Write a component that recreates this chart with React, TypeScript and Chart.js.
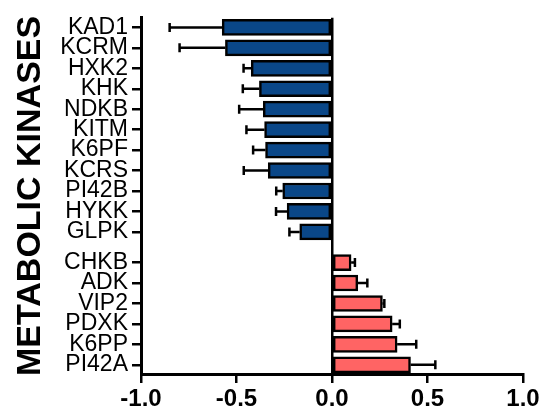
import React, { useEffect, useRef } from "react";
import { Chart, registerables } from "chart.js";

Chart.register(...registerables);

// Kinases with lower abundance (top group) and higher abundance (bottom group)
const decreasedKinases = ["KAD1", "KCRM", "HXK2", "KHK", "NDKB", "KITM", "K6PF", "KCRS", "PI42B", "HYKK", "GLPK"];
const decreasedValues = [-0.575, -0.558, -0.423, -0.38, -0.36, -0.353, -0.348, -0.334, -0.258, -0.235, -0.169];
const decreasedErrors = [0.275, 0.24, 0.04, 0.087, 0.126, 0.095, 0.065, 0.128, 0.034, 0.058, 0.054];

const increasedKinases = ["CHKB", "ADK", "VIP2", "PDXK", "K6PP", "PI42A"];
const increasedValues = [0.1, 0.135, 0.264, 0.315, 0.341, 0.411];
const increasedErrors = [0.02, 0.05, 0.01, 0.04, 0.1, 0.13];

const xTicks = [-1.0, -0.5, 0.0, 0.5, 1.0];
const axisTitle = "METABOLIC KINASES";

const BLUE = "#0a4788";
const RED = "#ff6464";
const FONT = "'Liberation Sans', Arial, sans-serif";
const GROUP_GAP = 0.5;

// Row index per kinase, with half a row of space between the two groups
const labels = [...decreasedKinases, ...increasedKinases];
const values = [...decreasedValues, ...increasedValues];
const errors = [...decreasedErrors, ...increasedErrors];
const rows = labels.map((_, i) => (i < decreasedKinases.length ? i : i + GROUP_GAP));

const errorBarPlugin = {
  id: "errorBars",
  afterDatasetsDraw(chart: any) {
    const meta = chart.getDatasetMeta(0);
    const xs = chart.scales.x;
    const ctx = chart.ctx;
    ctx.save();
    ctx.strokeStyle = "#000";
    ctx.lineWidth = 2.5;
    meta.data.forEach((bar: any, i: number) => {
      const v = values[i];
      const e = errors[i];
      const end = v + (v < 0 ? -e : e);
      const x1 = xs.getPixelForValue(v);
      const x2 = xs.getPixelForValue(end);
      const y = bar.y;
      ctx.beginPath();
      ctx.moveTo(x1, y);
      ctx.lineTo(x2, y);
      ctx.moveTo(x2, y - 4.5);
      ctx.lineTo(x2, y + 4.5);
      ctx.stroke();
    });
    ctx.restore();
  },
};

export default function App() {
  const ref = useRef<HTMLCanvasElement | null>(null);

  useEffect(() => {
    if (!ref.current) return;
    const chart = new Chart(ref.current, {
      type: "bar",
      data: {
        datasets: [
          {
            data: values.map((v, i) => ({ x: v, y: rows[i] })),
            backgroundColor: values.map((v) => (v < 0 ? BLUE : RED)),
            borderColor: "#000",
            borderWidth: 2.5,
            borderSkipped: false,
            barThickness: 16,
          },
        ],
      },
      plugins: [errorBarPlugin],
      options: {
        indexAxis: "y",
        animation: false,
        responsive: false,
        layout: { padding: { left: 0, top: 13, right: 18, bottom: 0 } },
        plugins: { legend: { display: false }, tooltip: { enabled: false } },
        scales: {
          x: {
            type: "linear",
            min: -1,
            max: 1,
            afterBuildTicks: (s: any) => {
              s.ticks = xTicks.map((v) => ({ value: v }));
            },
            afterFit: (s: any) => {
              s.height = 40;
              s.paddingLeft = 0;
              s.paddingRight = 0;
            },
            ticks: {
              callback: (v: any) => Number(v).toFixed(1),
              color: "#000",
              font: { family: FONT, size: 24, weight: "bold" },
              padding: 2,
              maxRotation: 0,
            },
            grid: {
              drawOnChartArea: true,
              color: (c: any) => (c.tick && c.tick.value === 0 ? "#000" : "rgba(0,0,0,0)"),
              tickColor: "#000",
              lineWidth: 2.5,
              tickLength: 9,
            },
            border: { display: true, color: "#000", width: 3 },
          },
          y: {
            type: "linear",
            reverse: true,
            offset: false,
            min: -0.47,
            max: 16.95,
            afterBuildTicks: (s: any) => {
              s.ticks = rows.map((r) => ({ value: r }));
            },
            afterFit: (s: any) => {
              s.width = 141;
            },
            ticks: {
              autoSkip: false,
              callback: (_v: any, i: number) => labels[i],
              color: "#000",
              font: { family: FONT, size: 23 },
              padding: 4,
            },
            grid: {
              offset: false,
              drawOnChartArea: false,
              color: "#000",
              tickColor: "#000",
              lineWidth: 2.5,
              tickLength: 9,
            },
            border: { display: true, color: "#000", width: 3 },
            title: {
              display: true,
              text: axisTitle,
              color: "#000",
              font: { family: FONT, size: 34, weight: "bold" },
              padding: { top: 10, bottom: 0 },
            },
          },
        },
      },
    } as any);
    return () => chart.destroy();
  }, []);

  return (
    <div style={{ position: "fixed", left: 0, top: 0, width: 541, height: 414, background: "#fff" }}>
      <canvas ref={ref} width={541} height={414} />
    </div>
  );
}
